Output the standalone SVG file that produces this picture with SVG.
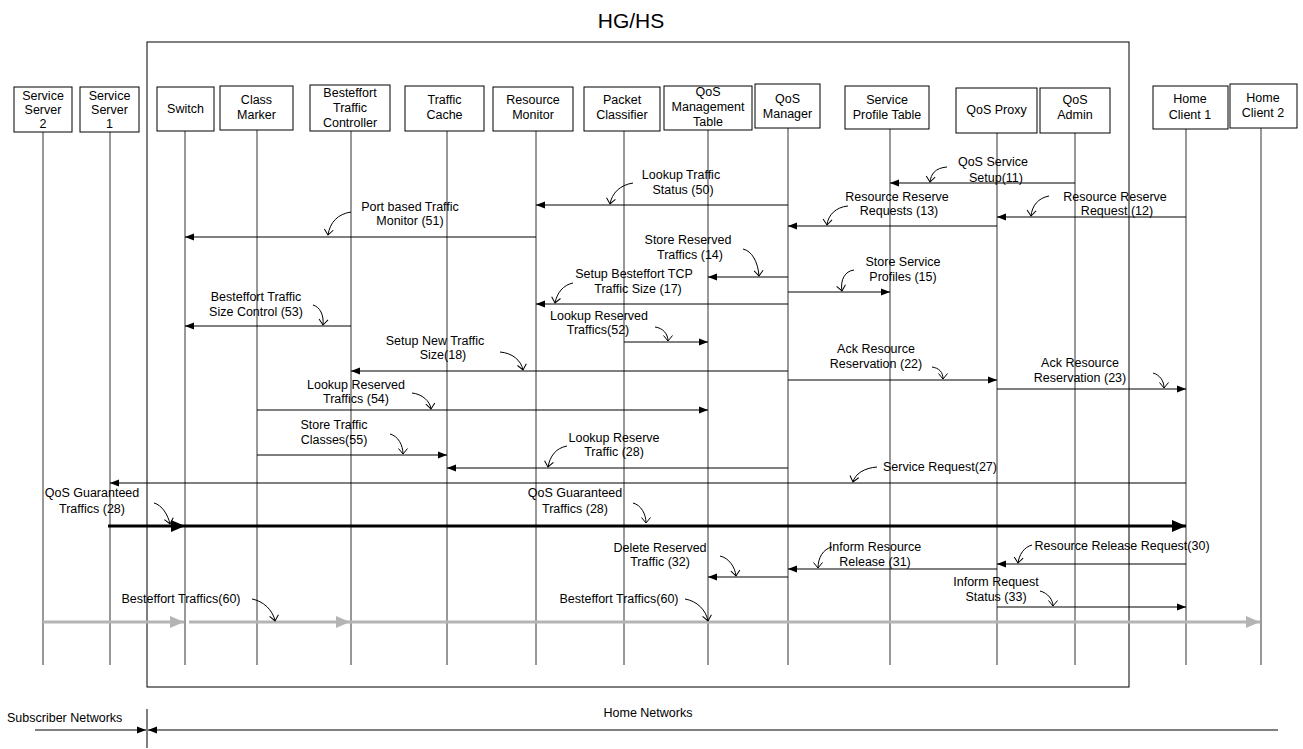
<svg xmlns="http://www.w3.org/2000/svg" width="1303" height="749" viewBox="0 0 1303 749">
<style>
text{font-family:"Liberation Sans",Arial,sans-serif;font-size:12.5px;fill:#000}
.n{text-anchor:middle}
.box{fill:#fff;stroke:#000;stroke-width:1}
.life{stroke:#333;stroke-width:1}
.msg{stroke:#000;stroke-width:1;fill:none;marker-end:url(#ah)}
.ptr{stroke:#000;stroke-width:1;fill:none;marker-end:url(#v)}
.thick{stroke:#000;stroke-width:3;fill:none;marker-end:url(#bh)}
.gray{stroke:#b4b4b4;stroke-width:3;fill:none;marker-end:url(#gh)}
.small{font-size:12.5px}
</style>
<defs>
<marker id="ah" markerUnits="userSpaceOnUse" markerWidth="10" markerHeight="8" refX="9" refY="4" orient="auto"><path d="M0,0.5 L9,4 L0,7.5 z" fill="#000"/></marker>
<marker id="bh" markerUnits="userSpaceOnUse" markerWidth="15" markerHeight="13" refX="14" refY="6.5" orient="auto"><path d="M0,0.5 L14,6.5 L0,12.5 z" fill="#000"/></marker>
<marker id="gh" markerUnits="userSpaceOnUse" markerWidth="15" markerHeight="13" refX="14" refY="6.5" orient="auto"><path d="M0,0.5 L14,6.5 L0,12.5 z" fill="#b4b4b4"/></marker>
<marker id="v" markerUnits="userSpaceOnUse" markerWidth="12" markerHeight="12" refX="6" refY="6" orient="auto" overflow="visible"><path d="M0.5,1.5 L6,6 L0.5,10.5" fill="none" stroke="#000" stroke-width="1"/></marker>
</defs>

<text x="631" y="28" class="n" style="font-size:21px">HG/HS</text>
<g id="hghs-box"><rect x="147" y="42" width="982" height="645" fill="none" stroke="#000" stroke-width="1"/></g>

<g id="service-server-2"><line class="life" x1="43" y1="132" x2="43" y2="665"/><rect class="box" x="14" y="87" width="58" height="45"/><text class="n" x="43" y="100">Service</text><text class="n" x="43" y="114">Server</text><text class="n" x="43" y="128">2</text></g>
<g id="service-server-1"><line class="life" x1="110" y1="132" x2="110" y2="665"/><rect class="box" x="80" y="87" width="59" height="45"/><text class="n" x="109.5" y="100">Service</text><text class="n" x="109.5" y="114">Server</text><text class="n" x="109.5" y="128">1</text></g>
<g id="switch"><line class="life" x1="185" y1="131" x2="185" y2="665"/><rect class="box" x="157" y="87" width="57" height="44"/><text class="n" x="185.5" y="113">Switch</text></g>
<g id="class-marker"><line class="life" x1="257" y1="130" x2="257" y2="665"/><rect class="box" x="220" y="86" width="73" height="44"/><text class="n" x="256.5" y="104">Class</text><text class="n" x="256.5" y="119">Marker</text></g>
<g id="besteffort-traffic-controller"><line class="life" x1="351" y1="131" x2="351" y2="665"/><rect class="box" x="310" y="85" width="80" height="46"/><text class="n" x="350" y="97">Besteffort</text><text class="n" x="350" y="112">Traffic</text><text class="n" x="350" y="127">Controller</text></g>
<g id="traffic-cache"><line class="life" x1="447" y1="131" x2="447" y2="665"/><rect class="box" x="405" y="86" width="79" height="45"/><text class="n" x="444.5" y="104">Traffic</text><text class="n" x="444.5" y="119">Cache</text></g>
<g id="resource-monitor"><line class="life" x1="536" y1="131" x2="536" y2="665"/><rect class="box" x="493" y="87" width="80" height="44"/><text class="n" x="533" y="104">Resource</text><text class="n" x="533" y="119">Monitor</text></g>
<g id="packet-classifier"><line class="life" x1="624" y1="131" x2="624" y2="665"/><rect class="box" x="584" y="87" width="76" height="44"/><text class="n" x="622" y="104">Packet</text><text class="n" x="622" y="119">Classifier</text></g>
<g id="qos-management-table"><line class="life" x1="708" y1="130" x2="708" y2="665"/><rect class="box" x="664" y="86" width="88" height="44"/><text class="n" x="708" y="96">QoS</text><text class="n" x="708" y="111">Management</text><text class="n" x="708" y="126">Table</text></g>
<g id="qos-manager"><line class="life" x1="788" y1="128" x2="788" y2="665"/><rect class="box" x="755" y="84" width="65" height="44"/><text class="n" x="787.5" y="103">QoS</text><text class="n" x="787.5" y="118">Manager</text></g>
<g id="service-profile-table"><line class="life" x1="890" y1="129" x2="890" y2="665"/><rect class="box" x="845" y="86" width="84" height="43"/><text class="n" x="887" y="104">Service</text><text class="n" x="887" y="119">Profile Table</text></g>
<g id="qos-proxy"><line class="life" x1="997" y1="133" x2="997" y2="665"/><rect class="box" x="956" y="88" width="81" height="45"/><text class="n" x="996.5" y="114">QoS Proxy</text></g>
<g id="qos-admin"><line class="life" x1="1075" y1="133" x2="1075" y2="665"/><rect class="box" x="1040" y="88" width="70" height="45"/><text class="n" x="1075" y="104">QoS</text><text class="n" x="1075" y="119">Admin</text></g>
<g id="home-client-1"><line class="life" x1="1186" y1="129" x2="1186" y2="665"/><rect class="box" x="1153" y="86" width="75" height="43"/><text class="n" x="1190" y="103">Home</text><text class="n" x="1190" y="119">Client 1</text></g>
<g id="home-client-2"><line class="life" x1="1261" y1="128" x2="1261" y2="665"/><rect class="box" x="1230" y="84" width="67" height="44"/><text class="n" x="1263" y="102">Home</text><text class="n" x="1263" y="117">Client 2</text></g>

<g id="connectors">
<line class="msg" x1="1075" y1="183" x2="890" y2="183"/>
<line class="msg" x1="1186" y1="217" x2="997" y2="217"/>
<line class="msg" x1="997" y1="226" x2="788" y2="226"/>
<line class="msg" x1="788" y1="205" x2="536" y2="205"/>
<line class="msg" x1="536" y1="237" x2="185" y2="237"/>
<line class="msg" x1="788" y1="277" x2="708" y2="277"/>
<line class="msg" x1="788" y1="292" x2="890" y2="292"/>
<line class="msg" x1="788" y1="304" x2="536" y2="304"/>
<line class="msg" x1="351" y1="326" x2="185" y2="326"/>
<line class="msg" x1="624" y1="342" x2="708" y2="342"/>
<line class="msg" x1="788" y1="371" x2="351" y2="371"/>
<line class="msg" x1="788" y1="380" x2="997" y2="380"/>
<line class="msg" x1="997" y1="389" x2="1186" y2="389"/>
<line class="msg" x1="257" y1="410" x2="708" y2="410"/>
<line class="msg" x1="257" y1="455" x2="447" y2="455"/>
<line class="msg" x1="788" y1="468" x2="447" y2="468"/>
<line class="msg" x1="1186" y1="483" x2="110" y2="483"/>
<line class="thick" x1="108" y1="526" x2="185" y2="526"/>
<line class="thick" x1="185" y1="526" x2="1186" y2="526"/>
<line class="msg" x1="1186" y1="564" x2="997" y2="564"/>
<line class="msg" x1="997" y1="569" x2="788" y2="569"/>
<line class="msg" x1="788" y1="577" x2="708" y2="577"/>
<line class="msg" x1="997" y1="607" x2="1186" y2="607"/>
<line class="gray" x1="43" y1="622" x2="184" y2="622"/>
<line class="gray" x1="189" y1="622" x2="350" y2="622"/>
<line class="gray" x1="350" y1="622" x2="1260" y2="622"/>

<path class="ptr" d="M947,167 C935,168 931,174 930,182"/>
<path class="ptr" d="M1049,196 C1038,198 1032,206 1031,216"/>
<path class="ptr" d="M848,206 C836,207 828,215 827,225"/>
<path class="ptr" d="M633,183 C620,185 612,193 610,204"/>
<path class="ptr" d="M351,212 C338,214 330,222 328,235"/>
<path class="ptr" d="M743,249 C752,251 758,262 759,276"/>
<path class="ptr" d="M854,270 C845,271 840,280 842,291"/>
<path class="ptr" d="M573,283 C563,285 557,293 555,303"/>
<path class="ptr" d="M313,305 C320,307 324,315 323,325"/>
<path class="ptr" d="M655,327 C663,328 668,334 668,341"/>
<path class="ptr" d="M500,352 C512,353 521,360 523,370"/>
<path class="ptr" d="M932,367 C939,368 943,372 943,379"/>
<path class="ptr" d="M1153,373 C1160,375 1164,381 1164,388"/>
<path class="ptr" d="M412,393 C422,394 430,401 431,409"/>
<path class="ptr" d="M390,434 C398,436 403,445 403,454"/>
<path class="ptr" d="M567,446 C556,448 550,456 548,467"/>
<path class="ptr" d="M877,467 C864,468 855,474 853,482"/>
<path class="ptr" d="M154,503 C162,505 168,515 170,524"/>
<path class="ptr" d="M633,503 C641,505 646,514 646,523"/>
<path class="ptr" d="M720,556 C729,558 735,567 736,576"/>
<path class="ptr" d="M832,547 C823,549 818,558 818,568"/>
<path class="ptr" d="M1032,545 C1024,547 1019,555 1018,563"/>
<path class="ptr" d="M1040,591 C1048,593 1053,600 1053,606"/>
<path class="ptr" d="M252,599 C263,601 273,610 275,621"/>
<path class="ptr" d="M685,599 C697,601 706,610 708,621"/>

<text class="n" x="993" y="166">QoS Service</text><text class="n" x="996" y="182">Setup(11)</text>
<text class="n" x="1115" y="201">Resource Reserve</text><text class="n" x="1117" y="215">Request (12)</text>
<text class="n" x="897" y="201">Resource Reserve</text><text class="n" x="899" y="215">Requests (13)</text>
<text class="n" x="681" y="179">Lookup Traffic</text><text class="n" x="683" y="194">Status (50)</text>
<text class="n" x="410" y="211">Port based Traffic</text><text class="n" x="410" y="225">Monitor (51)</text>
<text class="n" x="688" y="244">Store Reserved</text><text class="n" x="690" y="259">Traffics  (14)</text>
<text class="n" x="903" y="266">Store Service</text><text class="n" x="903" y="281">Profiles (15)</text>
<text class="n" x="634" y="278">Setup Besteffort TCP</text><text class="n" x="638" y="293">Traffic Size (17)</text>
<text class="n" x="256" y="301">Besteffort Traffic</text><text class="n" x="256" y="316">Size Control (53)</text>
<text class="n" x="599" y="320">Lookup Reserved</text><text class="n" x="598" y="334">Traffics(52)</text>
<text class="n" x="435" y="345">Setup New Traffic</text><text class="n" x="443" y="359">Size(18)</text>
<text class="n" x="876" y="353">Ack  Resource</text><text class="n" x="876" y="368">Reservation (22)</text>
<text class="n" x="1080" y="367">Ack  Resource</text><text class="n" x="1080" y="382">Reservation (23)</text>
<text class="n" x="356" y="389">Lookup Reserved</text><text class="n" x="356" y="403">Traffics (54)</text>
<text class="n" x="334" y="429">Store Traffic</text><text class="n" x="334" y="444">Classes(55)</text>
<text class="n" x="614" y="442">Lookup Reserve</text><text class="n" x="614" y="456">Traffic (28)</text>
<text class="n" x="940" y="471">Service Request(27)</text>
<text class="n" x="92" y="497">QoS Guaranteed</text><text class="n" x="92" y="513">Traffics (28)</text>
<text class="n" x="575" y="497">QoS Guaranteed</text><text class="n" x="575" y="513">Traffics (28)</text>
<text class="n" x="660" y="552">Delete Reserved</text><text class="n" x="660" y="566">Traffic (32)</text>
<text class="n" x="875" y="551">Inform Resource</text><text class="n" x="875" y="566">Release (31)</text>
<text class="n" x="1122" y="550">Resource Release Request(30)</text>
<text class="n" x="996" y="586">Inform Request</text><text class="n" x="996" y="601">Status (33)</text>
<text class="n" x="181" y="603">Besteffort Traffics(60)</text>
<text class="n" x="619" y="603">Besteffort Traffics(60)</text>
</g>

<g id="network-scale">
<line x1="147" y1="709" x2="147" y2="748" stroke="#000" stroke-width="1"/>
<line class="msg" x1="35" y1="730" x2="146" y2="730"/>
<line class="msg" x1="1278" y1="730" x2="148" y2="730"/>
<text class="small" x="7" y="722">Subscriber Networks</text>
<text class="small n" x="648" y="717">Home Networks</text>
</g>
</svg>
